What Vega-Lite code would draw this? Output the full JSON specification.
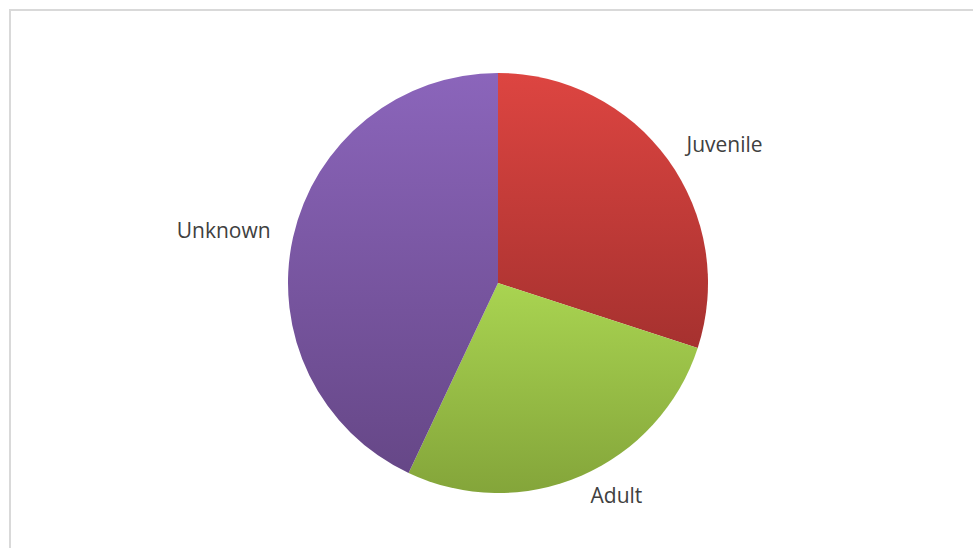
{
  "$schema": "https://vega.github.io/schema/vega-lite/v6.json",
  "width": 976,
  "height": 546,
  "padding": {"left": 10, "top": 10, "right": 0, "bottom": 0},
  "background": "white",
  "view": {"stroke": "#d9d9d9", "strokeWidth": 2},
  "config": {"view": {"stroke": "#d9d9d9", "strokeWidth": 2}},
  "data": {
    "values": [
      {"category": "Juvenile", "value": 30, "rank": 1},
      {"category": "Adult", "value": 27, "rank": 2},
      {"category": "Unknown", "value": 43, "rank": 3}
    ]
  },
  "layer": [
    {
      "transform": [
        {"stack": "value", "groupby": [], "sort": [{"field": "rank", "order": "ascending"}], "as": ["v0", "v1"]},
        {"filter": "datum.category === 'Juvenile'"}
      ],
      "mark": {"type": "arc", "radius": 210, "fill": {"gradient": "linear", "x1": 0, "y1": 0, "x2": 0, "y2": 1, "stops": [{"offset": 0, "color": "#dd4541"}, {"offset": 1, "color": "#a6312f"}]}},
      "encoding": {
        "theta": {"field": "v0", "type": "quantitative", "scale": {"domain": [0, 100]}},
        "theta2": {"field": "v1"}
      }
    },
    {
      "transform": [
        {"stack": "value", "groupby": [], "sort": [{"field": "rank", "order": "ascending"}], "as": ["v0", "v1"]},
        {"filter": "datum.category === 'Adult'"}
      ],
      "mark": {"type": "arc", "radius": 210, "fill": {"gradient": "linear", "x1": 0, "y1": 0, "x2": 0, "y2": 1, "stops": [{"offset": 0, "color": "#a9d451"}, {"offset": 1, "color": "#84a53a"}]}},
      "encoding": {
        "theta": {"field": "v0", "type": "quantitative", "scale": {"domain": [0, 100]}},
        "theta2": {"field": "v1"}
      }
    },
    {
      "transform": [
        {"stack": "value", "groupby": [], "sort": [{"field": "rank", "order": "ascending"}], "as": ["v0", "v1"]},
        {"filter": "datum.category === 'Unknown'"}
      ],
      "mark": {"type": "arc", "radius": 210, "fill": {"gradient": "linear", "x1": 0, "y1": 0, "x2": 0, "y2": 1, "stops": [{"offset": 0, "color": "#8b65bb"}, {"offset": 1, "color": "#664787"}]}},
      "encoding": {
        "theta": {"field": "v0", "type": "quantitative", "scale": {"domain": [0, 100]}},
        "theta2": {"field": "v1"}
      }
    },
    {
      "mark": {"type": "text", "radius": 233, "fontSize": 21, "font": "Open Sans", "fill": "#404040", "baseline": "middle", "align": {"expr": "datum.category === 'Unknown' ? 'right' : 'left'"}},
      "encoding": {
        "theta": {"field": "value", "type": "quantitative", "stack": true, "scale": {"domain": [0, 100]}},
        "order": {"field": "rank", "type": "quantitative"},
        "text": {"field": "category", "type": "nominal"}
      }
    }
  ]
}
